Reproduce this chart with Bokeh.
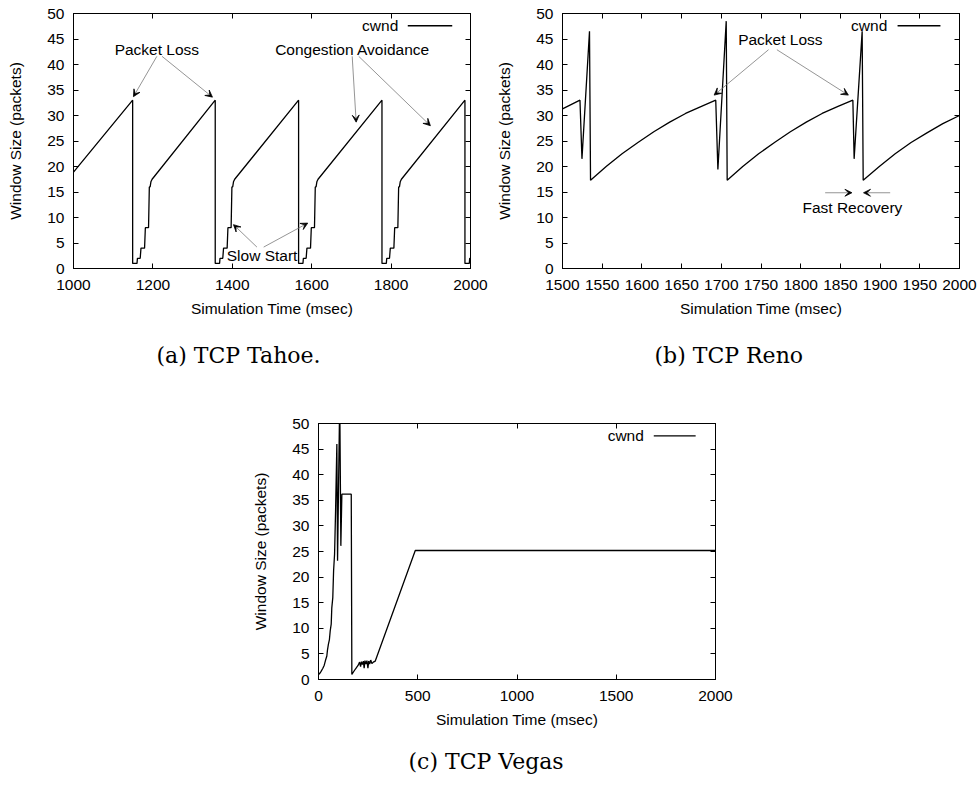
from bokeh.plotting import figure
from bokeh.models import (LinearAxis, FixedTicker, Range1d, Arrow, VeeHead,
                          Title, Spacer, CustomJSTickFormatter)
from bokeh.layouts import column, row
from bokeh.embed import file_html
from bokeh.resources import INLINE
from bokeh.core.properties import value

# ---------------- data ----------------
y_ticks = [0, 5, 10, 15, 20, 25, 30, 35, 40, 45, 50]

# (a) TCP Tahoe: congestion window over time
tahoe_x_ticks = [1000, 1200, 1400, 1600, 1800, 2000]
tahoe_t = [1000, 1149, 1149, 1160, 1161, 1168, 1170, 1179, 1181, 1189, 1191, 1193, 1195, 1198,
           1357, 1357, 1368, 1369, 1376, 1378, 1387, 1389, 1397, 1399, 1401, 1403, 1406,
           1567, 1567, 1578, 1579, 1586, 1588, 1597, 1599, 1607, 1609, 1611, 1613, 1616,
           1777, 1777, 1788, 1789, 1796, 1798, 1807, 1809, 1817, 1819, 1821, 1823, 1826,
           1986, 1986, 1997, 1998, 2000]
tahoe_w = [18.9, 33, 1, 1, 2, 2, 4, 4, 8, 8, 16, 16, 17, 17.5,
           33, 1, 1, 2, 2, 4, 4, 8, 8, 16, 16, 17, 17.5,
           33, 1, 1, 2, 2, 4, 4, 8, 8, 16, 16, 17, 17.5,
           33, 1, 1, 2, 2, 4, 4, 8, 8, 16, 16, 17, 17.5,
           33, 1, 1, 2, 2]

# (b) TCP Reno
reno_x_ticks = [1500, 1550, 1600, 1650, 1700, 1750, 1800, 1850, 1900, 1950, 2000]
reno_t = [1500, 1522, 1524.5, 1534, 1535.3,
          1555, 1575, 1595, 1615, 1635, 1655, 1675, 1693,
          1695.7, 1706.2, 1707.4,
          1727, 1747, 1767, 1787, 1807, 1827, 1847, 1865.7,
          1867.3, 1877.4, 1878.7,
          1899, 1919, 1939, 1959, 1979, 2000]
reno_w = [31.3, 33.0, 21.5, 46.5, 17.3,
          20.0, 22.5, 24.7, 26.8, 28.7, 30.4, 31.8, 33.0,
          19.4, 48.5, 17.3,
          20.0, 22.5, 24.7, 26.8, 28.7, 30.4, 31.8, 33.0,
          21.5, 46.5, 17.3,
          20.0, 22.5, 24.7, 26.6, 28.4, 30.0]

# (c) TCP Vegas
vegas_x_ticks = [0, 500, 1000, 1500, 2000]
vegas_t = [3, 13, 22, 29, 35, 42, 45, 50, 55, 59, 64, 67, 72, 76, 81, 86, 92.5, 96, 107, 112.6,
           117.7, 165, 168,
           185, 200, 207, 212, 216, 221, 226, 230, 234, 239, 244, 249, 253, 258, 263, 269, 276,
           286, 487.5, 2000]
vegas_w = [1.0, 1.6, 2.2, 2.8, 3.7, 4.6, 5.7, 6.9, 7.8, 9.5, 10.8, 14.0, 16.0, 21.2, 24.5, 32.9,
           46.0, 23.2, 55.0, 26.1, 36.2, 36.2, 1.0,
           2.0, 2.8, 3.4, 2.5, 3.5, 2.9, 3.6, 2.2, 3.7, 3.0, 3.7, 2.2, 3.6, 3.0, 3.8, 3.1, 3.4,
           3.6, 25.2, 25.2]

# annotations: text (x, y) and arrows (x0, y0, x1, y1)
tahoe_notes = ["Packet Loss", "Congestion Avoidance", "Slow Start"]
tahoe_note_x = [1210, 1703, 1475]
tahoe_note_y = [42.9, 42.9, 2.6]
tahoe_arrows = [(1210, 41.6, 1151, 33.7), (1223, 41.6, 1350, 33.6),
                (1702, 41.6, 1712, 28.7), (1718.5, 41.6, 1899, 28.0),
                (1462, 4.2, 1403, 8.6), (1479, 4.2, 1590, 8.9)]

reno_notes = ["Packet Loss", "Fast Recovery"]
reno_note_x = [1774.4, 1865.1]
reno_note_y = [44.9, 11.9]
reno_arrows = [(1759.5, 42.9, 1691, 34.0), (1770, 42.9, 1860, 34.0),
               (1830.8, 14.85, 1864.5, 14.85), (1912.7, 14.85, 1879.1, 14.85)]

# legend placement (label right edge, sample line start/end, height)
tahoe_key = (1818, 1842, 1954, 47.6)
reno_key = (1909, 1922, 1976, 47.6)
vegas_key = (1639, 1689, 1900, 47.6)

SANS = "Liberation Sans"
SERIF = "DejaVu Serif"
FS = "15.5px"


def mirror_axis(p, ticks, side):
    ax = LinearAxis(ticker=FixedTicker(ticks=ticks),
                    formatter=CustomJSTickFormatter(code="return ''"),
                    major_tick_in=5, major_tick_out=0,
                    minor_tick_in=0, minor_tick_out=0,
                    major_label_text_font_size="0px",
                    major_label_standoff=0,
                    axis_line_color="black")
    p.add_layout(ax, side)


def panel(width, height, xr, xticks, border_top, border_right, border_bottom,
          t, w, key, notes=(), note_x=(), note_y=(), arrows=()):
    p = figure(width=width, height=height, output_backend="svg", toolbar_location=None,
               x_range=Range1d(*xr), y_range=Range1d(0, 50),
               min_border_left=73, min_border_right=border_right,
               min_border_top=border_top, min_border_bottom=border_bottom)
    p.xgrid.visible = False
    p.ygrid.visible = False
    p.outline_line_color = "black"
    p.outline_line_width = 1
    p.background_fill_color = "white"
    p.border_fill_color = "white"

    p.xaxis.ticker = FixedTicker(ticks=xticks)
    p.yaxis.ticker = FixedTicker(ticks=y_ticks)
    p.xaxis.axis_label = "Simulation Time (msec)"
    p.yaxis.axis_label = "Window Size (packets)"
    for ax in (p.xaxis, p.yaxis):
        ax.major_tick_in = 5
        ax.major_tick_out = 0
        ax.minor_tick_in = 0
        ax.minor_tick_out = 0
        ax.axis_line_color = "black"
        ax.major_label_text_font = SANS
        ax.major_label_text_font_size = FS
        ax.major_label_text_color = "black"
        ax.axis_label_text_font = SANS
        ax.axis_label_text_font_size = FS
        ax.axis_label_text_font_style = "normal"
        ax.axis_label_text_color = "black"
    p.xaxis.major_label_standoff = 11
    p.xaxis.axis_label_standoff = 7
    p.yaxis.major_label_standoff = 9
    p.yaxis.axis_label_standoff = 20

    mirror_axis(p, xticks, "above")
    mirror_axis(p, y_ticks, "right")

    p.line(t, w, line_color="black", line_width=1.3)

    # key
    p.text(x=[key[0]], y=[key[3]], text=["cwnd"], text_align="right", text_baseline="middle",
           text_font=value(SANS), text_font_size=FS, text_color="black")
    p.line([key[1], key[2]], [key[3], key[3]], line_color="black", line_width=1.3)

    if notes:
        p.text(x=list(note_x), y=list(note_y), text=list(notes), text_align="center",
               text_baseline="middle", text_font=value(SANS), text_font_size=FS,
               text_color="black")
    for (x0, y0, x1, y1) in arrows:
        p.add_layout(Arrow(x_start=x0, y_start=y0, x_end=x1, y_end=y1,
                           line_color="#7a7a7a", line_width=0.8,
                           end=VeeHead(size=7, fill_color="black", line_color="black",
                                       line_width=0.8)))
    return p


def caption_title(p, text, offset, standoff):
    p.add_layout(Title(text=text, align="left", text_font=SERIF,
                       text_font_size="22px", text_font_style="normal",
                       text_color="black", standoff=standoff, offset=offset), "below")


pa = panel(489, 400, (1000, 2000), tahoe_x_ticks, 13, 19, 132,
           tahoe_t, tahoe_w, tahoe_key, tahoe_notes, tahoe_note_x, tahoe_note_y, tahoe_arrows)
caption_title(pa, "(a) TCP Tahoe.", 83, 43)
pb = panel(490, 400, (1500, 2000), reno_x_ticks, 13, 20, 132,
           reno_t, reno_w, reno_key, reno_notes, reno_note_x, reno_note_y, reno_arrows)
caption_title(pb, "(b) TCP Reno", 92, 43)
pc = panel(489, 393, (0, 2000), vegas_x_ticks, 23, 19, 114,
           vegas_t, vegas_w, vegas_key)
caption_title(pc, "(c) TCP Vegas", 90, 32)

layout = column(row(pa, pb), row(Spacer(width=245, height=393), pc))

open("out.html", "w").write(file_html(layout, INLINE))
